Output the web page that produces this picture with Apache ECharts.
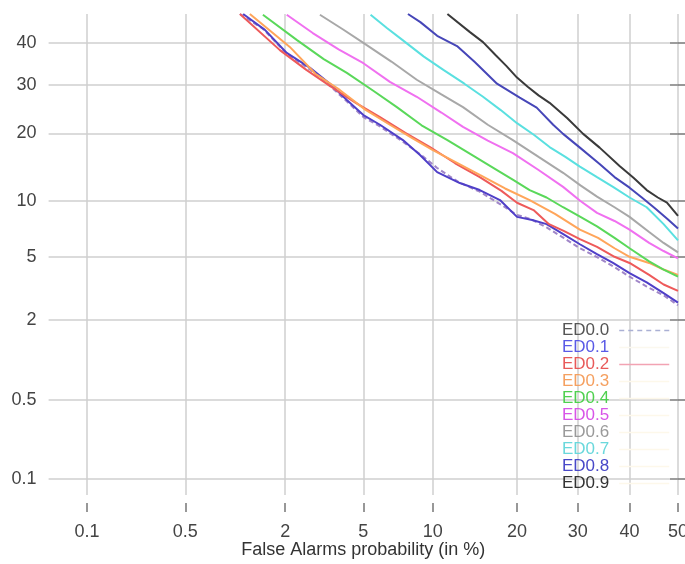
<!DOCTYPE html>
<html><head><meta charset="utf-8">
<script src="https://cdn.jsdelivr.net/npm/echarts@6/dist/echarts.min.js"></script>
<style>html,body{margin:0;padding:0;background:#fff}#c{width:685px;height:564px}</style>
</head><body><div id="c"></div>
<script>
// Tick positions (in %) and their labels
const X_TICKS = [0.1, 0.5, 2, 5, 10, 20, 30, 40, 50];
const X_TICK_LABELS = ['0.1', '0.5', '2', '5', '10', '20', '30', '40', '50'];
const Y_TICKS = [0.1, 0.5, 2, 5, 10, 20, 30, 40];
const Y_TICK_LABELS = ['0.1', '0.5', '2', '5', '10', '20', '30', '40'];
const X_RANGE = [0.05, 50];
const Y_RANGE = [0.07, 47.4];
const X_TITLE = 'False Alarms probability (in %)';

const SERIES_NAMES = ['ED0.0', 'ED0.1', 'ED0.2', 'ED0.3', 'ED0.4', 'ED0.5', 'ED0.6', 'ED0.7', 'ED0.8', 'ED0.9'];

// [false alarm %, miss %]
const ED0_0 = [[1.10,47.4],[1.5,43.6],[2.04,37.3],[2.7,33.6],[3.44,29.7],[4.2,26.2],[5.0,23.1],[6.0,21.2],[7.52,18.5],[8.9,16.4],[10.4,14.3],[12.6,12.3],[15.0,11.1],[17.5,9.7],[20.0,8.5],[22.0,8.1],[24.6,7.3],[27.5,6.4],[30.4,5.6],[33.5,5.0],[36.7,4.4],[40.0,3.8],[43.5,3.3],[47.0,2.9],[50,2.5]];
const ED0_1 = [[1.15,47.4],[1.54,43.3],[2.04,37.5],[2.72,33.9],[3.44,30.2],[4.17,26.6],[5.0,23.5],[5.96,21.6],[7.52,18.8],[8.87,16.3],[10.4,13.7],[12.7,12.2],[15.0,11.3],[17.6,10.1],[20.0,8.3],[22.3,8.0],[24.6,7.6],[27.5,6.7],[30.4,5.9],[33.5,5.2],[36.7,4.6],[40.0,4.0],[43.5,3.5],[47.0,3.0],[50,2.6]];
const ED0_2 = [[1.10,47.4],[1.87,38.2],[2.6,33.4],[3.44,29.7],[4.6,26.0],[5.96,23.1],[7.7,20.1],[9.74,17.6],[12.2,15.0],[15.0,13.0],[17.8,11.2],[20.0,9.8],[22.5,9.0],[25.0,7.6],[27.5,7.0],[30.4,6.3],[33.6,5.7],[37.0,5.0],[40.0,4.6],[44.0,3.9],[47.0,3.4],[50,3.1]];
const ED0_3 = [[1.26,47.4],[2.12,39.0],[2.9,32.5],[3.85,28.8],[5.1,24.6],[6.6,21.6],[8.2,19.2],[10.0,17.1],[12.5,15.0],[15.0,13.3],[18.3,11.5],[21.9,10.1],[26.0,8.6],[30.4,7.1],[33.8,6.4],[37.0,5.6],[40.0,5.0],[44.0,4.6],[47.0,4.2],[50,3.9]];
const ED0_4 = [[1.5,47.2],[2.32,40.7],[3.2,36.0],[4.17,32.7],[5.6,28.5],[7.08,25.1],[9.0,21.5],[11.4,18.8],[14.2,16.2],[17.2,14.0],[19.5,12.6],[21.9,11.3],[24.6,10.4],[27.4,9.3],[30.5,8.3],[33.6,7.4],[37.0,6.4],[40.0,5.6],[44.0,4.7],[47.0,4.2],[50,3.8]];
const ED0_5 = [[2.04,47.2],[2.81,42.5],[3.8,38.4],[5.0,35.0],[6.6,30.6],[8.6,27.3],[10.8,24.0],[13.05,21.2],[16.0,18.7],[19.4,16.6],[23.3,14.0],[27.4,11.7],[30.5,10.0],[33.6,8.7],[37.0,7.9],[40.0,7.1],[44.0,6.0],[47.0,5.4],[50,4.9]];
const ED0_6 = [[3.06,47.2],[4.0,43.4],[5.0,40.0],[6.7,35.4],[8.6,31.1],[10.8,27.8],[13.05,25.1],[16.0,21.6],[19.4,18.8],[23.3,16.0],[27.4,13.6],[30.5,11.9],[33.6,10.5],[37.0,9.3],[40.0,8.3],[44.0,6.9],[47.0,6.0],[50,5.3]];
const ED0_7 = [[5.4,47.2],[6.4,43.8],[7.5,40.7],[9.2,36.6],[11.0,33.4],[13.2,30.2],[15.4,27.3],[17.7,24.5],[20.0,21.9],[22.6,19.7],[25.1,17.6],[27.8,16.0],[30.4,14.5],[33.6,13.0],[36.7,11.7],[40.0,10.4],[43.5,9.3],[47.0,7.6],[50,6.2]];
const ED0_8 = [[7.9,47.4],[8.9,45.3],[10.4,41.8],[12.4,39.2],[14.4,35.3],[17.2,30.2],[20.4,27.1],[23.0,25.0],[25.7,21.6],[27.4,19.9],[30.4,17.5],[34.1,14.9],[37.0,13.0],[40.0,11.6],[42.5,10.4],[45.2,9.2],[47.8,8.1],[50,7.2]];
const ED0_9 = [[11.4,47.4],[13.8,42.8],[15.4,40.2],[17.0,37.0],[18.5,34.3],[20.0,31.6],[21.6,29.5],[23.3,27.6],[25.1,26.0],[28.1,22.9],[31.0,19.9],[34.1,17.5],[38.0,14.6],[40.8,12.9],[43.5,11.3],[45.8,10.4],[47.7,9.8],[50,8.4]];

const SERIES_DATA = [ED0_0, ED0_1, ED0_2, ED0_3, ED0_4, ED0_5, ED0_6, ED0_7, ED0_8, ED0_9];
const LINE_COLORS = ['#a086c8', '#4f3fc8', '#ee5a5a', '#ffa55a', '#5ad85a', '#f070f0', '#a8a8a8', '#5ae0e0', '#4646b8', '#3a3a3a'];
const TEXT_COLORS = ['#555555', '#5a5ae6', '#e85a5a', '#f5a060', '#50d050', '#d855e8', '#9a9a9a', '#6ad8dc', '#4848c8', '#333333'];
const LEGEND_SAMPLE_COLORS = ['#aab0d4', '#fbf8ee', '#f2a3b3', '#fdf8ea', '#fdf8ea', '#fdf8ea', '#fdf8ea', '#fdf8ea', '#fdf8ea', '#fdf8ea'];

function probit(p) {
  const a = [-3.969683028665376e+01, 2.209460984245205e+02, -2.759285104469687e+02, 1.383577518672690e+02, -3.066479806614716e+01, 2.506628277459239e+00];
  const b = [-5.447609879822406e+01, 1.615858368580409e+02, -1.556989798598866e+02, 6.680131188771972e+01, -1.328068155288572e+01];
  const c = [-7.784894002430293e-03, -3.223964580411365e-01, -2.400758277161838e+00, -2.549732539343734e+00, 4.374664141464968e+00, 2.938163982698783e+00];
  const d = [7.784695709041462e-03, 3.224671290700398e-01, 2.445134137142996e+00, 3.754408661907416e+00];
  const pl = 0.02425, ph = 1 - pl;
  let q, r;
  if (p < pl) {
    q = Math.sqrt(-2 * Math.log(p));
    return (((((c[0]*q+c[1])*q+c[2])*q+c[3])*q+c[4])*q+c[5]) / ((((d[0]*q+d[1])*q+d[2])*q+d[3])*q+1);
  }
  if (p <= ph) {
    q = p - 0.5; r = q * q;
    return (((((a[0]*r+a[1])*r+a[2])*r+a[3])*r+a[4])*r+a[5])*q / (((((b[0]*r+b[1])*r+b[2])*r+b[3])*r+b[4])*r+1);
  }
  q = Math.sqrt(-2 * Math.log(1 - p));
  return -(((((c[0]*q+c[1])*q+c[2])*q+c[3])*q+c[4])*q+c[5]) / ((((d[0]*q+d[1])*q+d[2])*q+d[3])*q+1);
}
const P = v => probit(v / 100);

function labelFor(ticks, labels) {
  return function (v) {
    for (let i = 0; i < ticks.length; i++) {
      if (Math.abs(P(ticks[i]) - v) < 1e-6) return labels[i];
    }
    return '';
  };
}

const xVals = X_TICKS.map(P);
const yVals = Y_TICKS.map(P);
const FONT = "'Liberation Sans', Arial, sans-serif";

const chart = echarts.init(document.getElementById('c'), null, { renderer: 'canvas' });
chart.setOption({
  animation: false,
  backgroundColor: '#ffffff',
  grid: { left: 48.6, right: 7, top: 14, bottom: 69, containLabel: false, outerBoundsMode: 'none' },
  xAxis: {
    type: 'value',
    min: P(X_RANGE[0]), max: P(X_RANGE[1]),
    offset: 8,
    name: X_TITLE,
    nameLocation: 'middle',
    nameGap: 38,
    nameMoveOverlap: false,
    nameTextStyle: { fontSize: 18, color: '#333', fontFamily: FONT },
    axisLine: { show: false },
    axisTick: { show: true, customValues: xVals, length: 9, inside: false, lineStyle: { color: '#777', width: 1.5 } },
    axisLabel: { show: true, customValues: xVals, formatter: labelFor(X_TICKS, X_TICK_LABELS), margin: 20, fontSize: 18, color: '#444', fontFamily: FONT },
    splitLine: { show: true, lineStyle: { color: '#cfcfcf', width: 1.5 } }
  },
  yAxis: [{
    type: 'value',
    position: 'left',
    min: P(Y_RANGE[0]), max: P(Y_RANGE[1]),
    axisLine: { show: false },
    axisTick: { show: true, customValues: yVals, length: 9, inside: true, lineStyle: { color: '#777', width: 1.5 } },
    axisLabel: { show: true, customValues: yVals, formatter: labelFor(Y_TICKS, Y_TICK_LABELS), margin: 12, fontSize: 18, color: '#444', fontFamily: FONT, padding: [4, 0, 0, 0] },
    splitLine: { show: true, lineStyle: { color: '#cfcfcf', width: 1.5 } }
  }, {
    type: 'value',
    position: 'right',
    min: P(Y_RANGE[0]), max: P(Y_RANGE[1]),
    axisLine: { show: false },
    axisTick: { show: true, customValues: yVals, length: 8, inside: true, lineStyle: { color: '#888', width: 1.5 } },
    axisLabel: { show: false },
    splitLine: { show: false }
  }],
  legend: {
    orient: 'vertical',
    align: 'right',
    right: 15,
    top: 322,
    itemWidth: 50,
    itemHeight: 12,
    itemGap: 0,
    padding: 0,
    selectedMode: false,
    textStyle: { fontSize: 17, lineHeight: 16.7, fontFamily: FONT, padding: [0, 5, 0, 0] },
    data: SERIES_NAMES.map((n, i) => ({
      name: n,
      textStyle: { color: TEXT_COLORS[i] },
      lineStyle: { color: LEGEND_SAMPLE_COLORS[i], width: 1.5, type: i === 0 ? [5, 4] : 'solid' },
      itemStyle: { opacity: 0 }
    }))
  },
  series: SERIES_NAMES.map((n, i) => ({
    name: n,
    type: 'line',
    yAxisIndex: 0,
    symbol: 'none',
    showSymbol: false,
    clip: true,
    color: LINE_COLORS[i],
    lineStyle: { color: LINE_COLORS[i], width: 2, type: i === 0 ? [5, 3] : 'solid' },
    data: SERIES_DATA[i].map(d => [P(d[0]), P(d[1])])
  }))
});
</script>
</body></html>
